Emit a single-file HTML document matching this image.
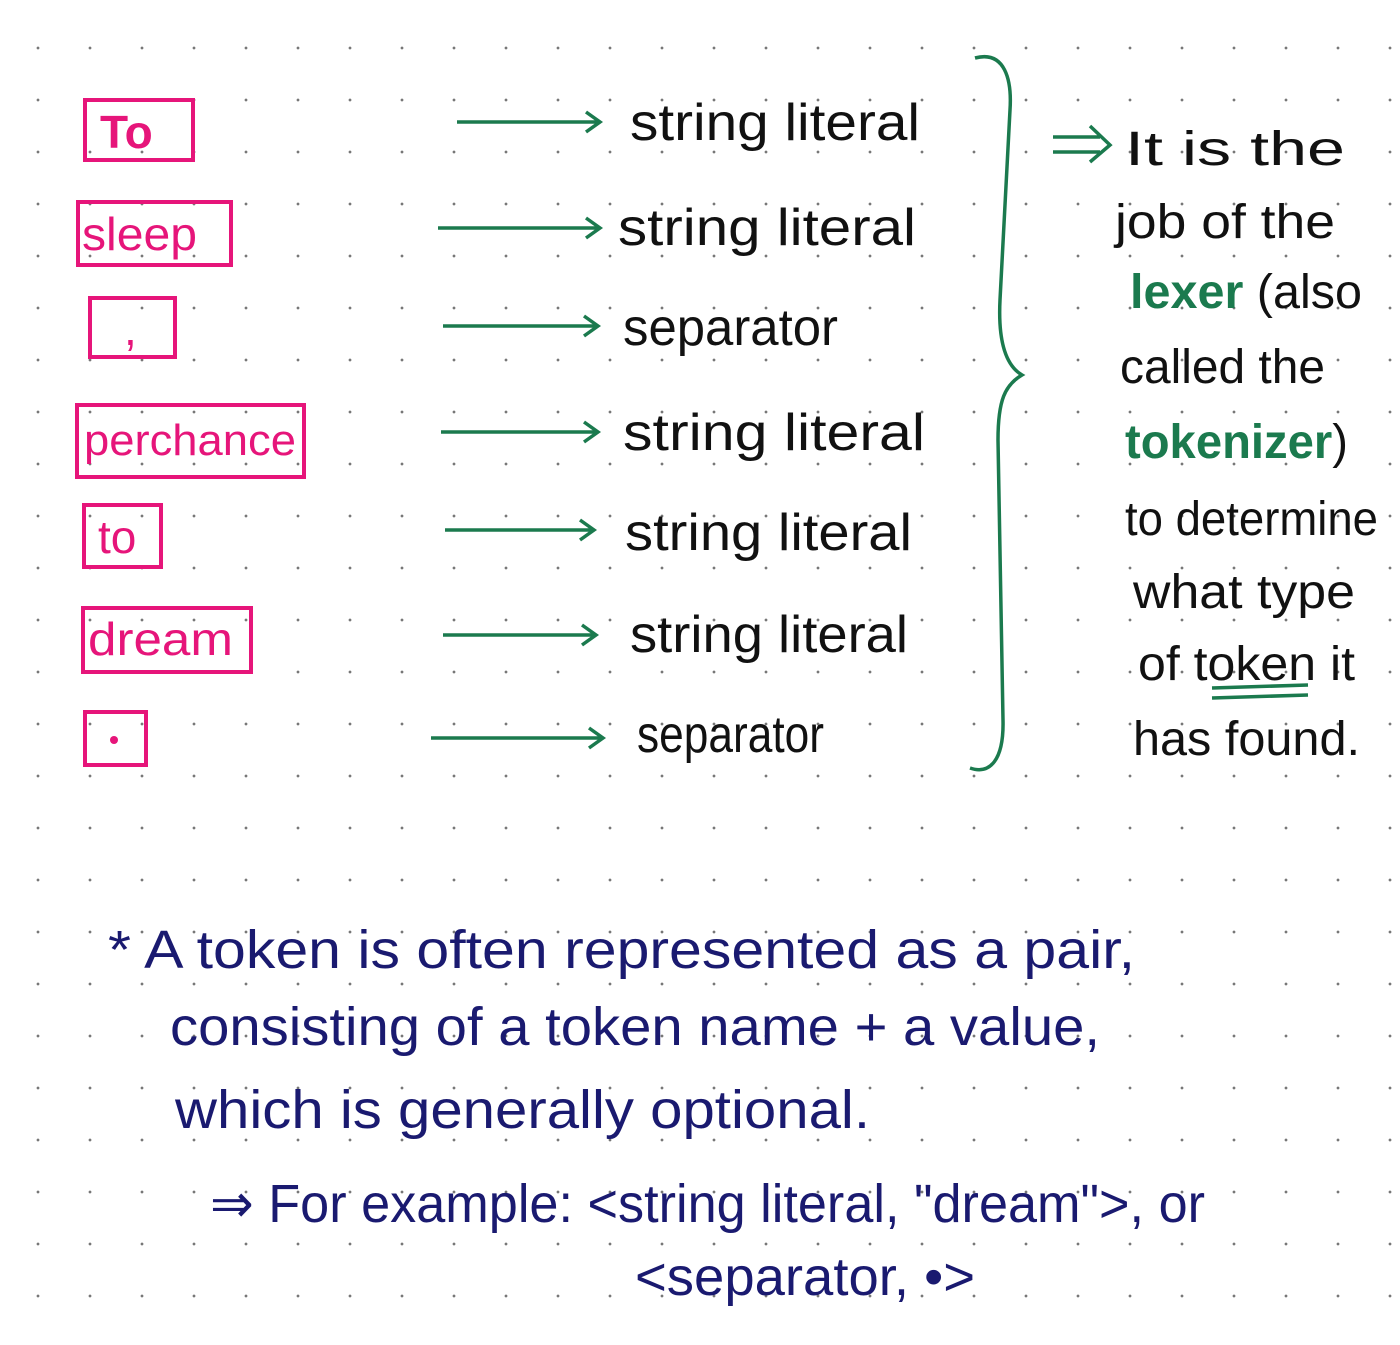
<!DOCTYPE html>
<html><head><meta charset="utf-8">
<style>
html,body{margin:0;padding:0;}
body{width:1400px;height:1345px;overflow:hidden;background-color:#fff;
background-image:radial-gradient(circle,#777 1.2px,transparent 1.6px);
background-size:52px 52px;background-position:12px 22px;}
svg{position:absolute;left:0;top:0;}
text{font-family:"Liberation Sans",sans-serif;}
</style></head><body>
<svg width="1400" height="1345" viewBox="0 0 1400 1345">
<g fill="none" stroke="#e6157a" stroke-width="4">
<rect x="85" y="100" width="108" height="60"/>
<rect x="78" y="202" width="153" height="63"/>
<rect x="90" y="298" width="85" height="59"/>
<rect x="77" y="405" width="227" height="72"/>
<rect x="84" y="505" width="77" height="62"/>
<rect x="83" y="608" width="168" height="64"/>
<rect x="85" y="712" width="61" height="53"/>
</g>
<g fill="#e6157a" font-size="46">
<text x="100" y="148" font-weight="bold">To</text>
<text x="82" y="250" textLength="115" lengthAdjust="spacingAndGlyphs">sleep</text>
<text x="124" y="345">,</text>
<text x="84" y="455" font-size="44" textLength="212" lengthAdjust="spacingAndGlyphs">perchance</text>
<text x="98" y="553">to</text>
<text x="88" y="655" textLength="145" lengthAdjust="spacingAndGlyphs">dream</text>
</g>
<circle cx="114" cy="740" r="4" fill="#e6157a"/>
<g stroke="#1b7a4e" stroke-width="3.5" fill="none">
<path d="M457 122 L598 122 M586 112 L600 122 L586 132"/>
<path d="M438 228 L598 228 M586 218 L600 228 L586 238"/>
<path d="M443 326 L596 326 M584 316 L598 326 L584 336"/>
<path d="M441 432 L596 432 M584 422 L598 432 L584 442"/>
<path d="M445 530 L592 530 M580 520 L594 530 L580 540"/>
<path d="M443 635 L594 635 M582 625 L596 635 L582 645"/>
<path d="M431 738 L601 738 M589 728 L603 738 L589 748"/>
<path d="M975 58 C1005 50 1012 80 1010 110 L1000 300 C998 340 1005 365 1022 375 C1005 385 998 400 998 440 L1003 720 C1004 760 990 775 970 768"/>
<path d="M1053 137 L1100 137 M1053 152 L1100 152 M1090 126 L1110 145 L1090 162"/>
<path d="M1212 688 L1308 685 M1212 698 L1308 695"/>
</g>
<g fill="#111" font-size="52">
<text x="630" y="140" textLength="290" lengthAdjust="spacingAndGlyphs">string literal</text>
<text x="618" y="245" textLength="298" lengthAdjust="spacingAndGlyphs">string literal</text>
<text x="623" y="345" textLength="215" lengthAdjust="spacingAndGlyphs">separator</text>
<text x="623" y="450" textLength="302" lengthAdjust="spacingAndGlyphs">string literal</text>
<text x="625" y="550" textLength="287" lengthAdjust="spacingAndGlyphs">string literal</text>
<text x="630" y="652" textLength="278" lengthAdjust="spacingAndGlyphs">string literal</text>
<text x="637" y="752" textLength="187" lengthAdjust="spacingAndGlyphs">separator</text>
</g>
<g fill="#111" font-size="48" lengthAdjust="spacingAndGlyphs">
<text x="1125" y="165" textLength="220" lengthAdjust="spacingAndGlyphs">It is the</text>
<text x="1115" y="238" textLength="220" lengthAdjust="spacingAndGlyphs">job of the</text>
<text x="1130" y="308" textLength="232" lengthAdjust="spacingAndGlyphs"><tspan fill="#1b7a4e" font-weight="bold">lexer</tspan> (also</text>
<text x="1120" y="383" textLength="205" lengthAdjust="spacingAndGlyphs">called the</text>
<text x="1125" y="458" textLength="223" lengthAdjust="spacingAndGlyphs"><tspan fill="#1b7a4e" font-weight="bold">tokenizer</tspan>)</text>
<text x="1125" y="535" textLength="253" lengthAdjust="spacingAndGlyphs">to determine</text>
<text x="1133" y="608" textLength="222" lengthAdjust="spacingAndGlyphs">what type</text>
<text x="1138" y="680" textLength="217" lengthAdjust="spacingAndGlyphs">of token it</text>
<text x="1133" y="755" textLength="227" lengthAdjust="spacingAndGlyphs">has found.</text>
</g>
<g fill="#1a1a70" font-size="54">
<text x="108" y="968" textLength="1027" lengthAdjust="spacingAndGlyphs">* A token is often represented as a pair,</text>
<text x="170" y="1045" textLength="930" lengthAdjust="spacingAndGlyphs">consisting of a token name + a value,</text>
<text x="175" y="1128" textLength="695" lengthAdjust="spacingAndGlyphs">which is generally optional.</text>
<text x="210" y="1222" textLength="995" lengthAdjust="spacingAndGlyphs">⇒ For example: &lt;string literal, "dream"&gt;, or</text>
<text x="635" y="1295" textLength="340" lengthAdjust="spacingAndGlyphs">&lt;separator, •&gt;</text>
</g>
</svg>
</body></html>
